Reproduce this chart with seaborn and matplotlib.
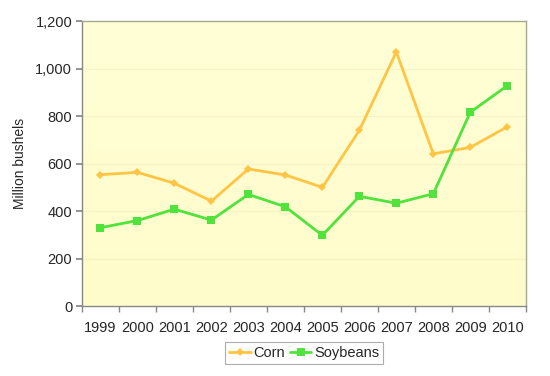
import matplotlib
matplotlib.use("Agg")
import matplotlib.pyplot as plt
import seaborn as sns
import pandas as pd
import numpy as np

years = ["1999", "2000", "2001", "2002", "2003", "2004", "2005", "2006", "2007", "2008", "2009", "2010"]
corn = [553, 563, 517, 442, 577, 552, 500, 740, 1070, 641, 668, 755]
soybeans = [330, 360, 408, 362, 470, 418, 298, 462, 433, 473, 816, 928]
yticks = [0, 200, 400, 600, 800, 1000, 1200]

sns.set_theme(style="white")
plt.rcParams['font.family'] = ['Liberation Sans', 'DejaVu Sans']

df = pd.DataFrame({"Year": years * 2,
                   "Value": corn + soybeans,
                   "Series": ["Corn"] * len(years) + ["Soybeans"] * len(years)})
df["x"] = list(range(len(years))) * 2

fig = plt.figure(figsize=(5.5, 3.76), dpi=100)
ax = fig.add_axes([0.149, 0.186, 0.807, 0.758])

grad = np.linspace(0, 1, 256).reshape(-1, 1)
from matplotlib.colors import LinearSegmentedColormap
cmap = LinearSegmentedColormap.from_list("bg", ["#FFFCCB", "#FFFFD6"])
ax.imshow(grad, aspect="auto", cmap=cmap, extent=[-0.5, 11.5, 0, 1200], origin="lower", zorder=0)

for v in yticks[1:-1]:
    ax.axhline(v, color="#F5F2C4", lw=0.8, zorder=1)

palette = {"Corn": "#FFC444", "Soybeans": "#4FE33C"}
sns.lineplot(data=df, x="x", y="Value", hue="Series", style="Series",
             markers={"Corn": "D", "Soybeans": "s"}, dashes=False,
             palette=palette, lw=2, ax=ax, zorder=3, legend=False)
for line, ms in zip(ax.get_lines()[-2:], [4.5, 6]):
    line.set_markersize(ms)
    line.set_markeredgewidth(0)

ax.set_xlim(-0.5, 11.5)
ax.set_ylim(0, 1200)
ax.set_yticks(yticks)
ax.set_yticklabels([f"{v:,}" for v in yticks], fontsize=10.5)
ax.set_xticks(np.arange(len(years)))
ax.set_xticklabels(years, fontsize=10.5)
ax.set_xticks(np.arange(-0.5, 12, 1), minor=True)
ax.tick_params(axis="x", which="major", length=0, pad=11)
ax.tick_params(axis="x", which="minor", length=4, color="#888888", direction="out", bottom=True)
ax.tick_params(axis="y", length=4, color="#888888", direction="out", left=True, pad=3)
ax.set_xlabel("")
ax.set_ylabel("Million bushels", fontsize=10, labelpad=6)
for s in ax.spines.values():
    s.set_color("#A8A88A")
    s.set_linewidth(1)
ax.spines["left"].set_color("#888888")
ax.spines["bottom"].set_color("#888888")

from matplotlib.lines import Line2D
handles = [Line2D([], [], color=palette["Corn"], marker="D", ms=4.5, mew=0, lw=2),
           Line2D([], [], color=palette["Soybeans"], marker="s", ms=5.5, mew=0, lw=2)]
leg = fig.legend(handles, ["Corn", "Soybeans"], loc="center", bbox_to_anchor=(0.553, 0.061),
                 ncol=2, fontsize=10.5, frameon=True, fancybox=False, edgecolor="#999999",
                 handlelength=1.5, handletextpad=0.2, columnspacing=0.3, borderpad=0.25,
                 borderaxespad=0)
leg.get_frame().set_linewidth(0.8)

fig.savefig("out.png", dpi=100)
